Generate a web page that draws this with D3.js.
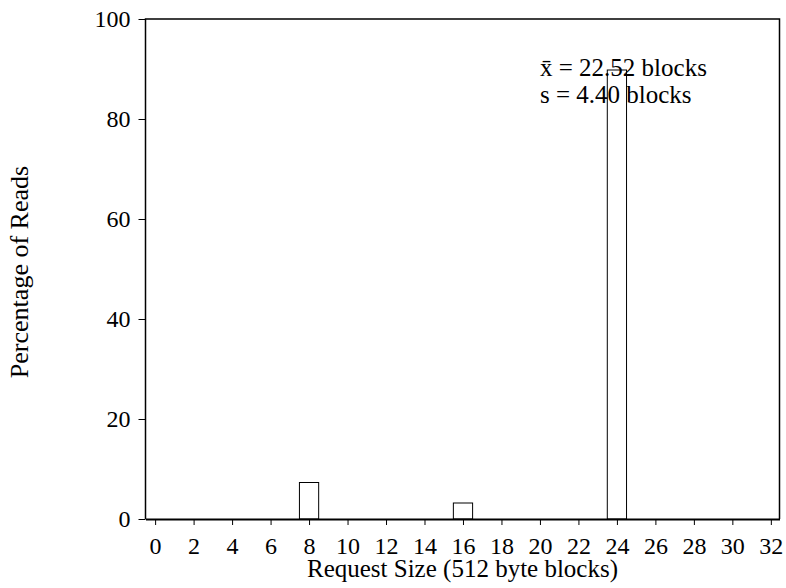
<!DOCTYPE html>
<html>
<head>
<meta charset="utf-8">
<script src="https://cdn.jsdelivr.net/npm/d3@7"></script>
<style>
  html, body { margin: 0; padding: 0; background: #fff; }
  svg, svg text { font-family: "Liberation Serif", "Times New Roman", serif; }
  svg { display: block; }
</style>
</head>
<body>
<div class="chart"></div>
<script>
// Request sizes (512 byte blocks) and percentage of reads
const sizes = [8, 16, 24];
const percents = [7.3, 3.2, 89.8];
const xTicks = [0, 2, 4, 6, 8, 10, 12, 14, 16, 18, 20, 22, 24, 26, 28, 30, 32];
const yTicks = [0, 20, 40, 60, 80, 100];
const statLines = ["x\u0304 = 22.52 blocks", "s = 4.40 blocks"];

const width = 786;
const height = 588;
const margin = { top: 19, right: 6.5, bottom: 69, left: 145.5 };

const svg = d3.select(".chart")
  .append("svg")
  .attr("width", width)
  .attr("height", height);

const x = d3.scaleLinear()
  .domain([-0.5, 32.45])
  .range([margin.left, width - margin.right]);

const y = d3.scaleLinear()
  .domain([0, 100])
  .range([height - margin.bottom, margin.top]);

// plot frame (top, right, left)
svg.append("path")
  .attr("d", `M${x(-0.5)},${y(0)}V${y(100)}H${x(32.45)}V${y(0)}`)
  .attr("fill", "none")
  .attr("stroke", "#000")
  .attr("stroke-width", 1.5);

// bars
svg.append("g")
  .selectAll("rect")
  .data(sizes)
  .join("rect")
  .attr("x", d => x(d - 0.5))
  .attr("width", d => x(d + 0.5) - x(d - 0.5))
  .attr("y", (d, i) => y(percents[i]))
  .attr("height", (d, i) => y(0) - y(percents[i]))
  .attr("fill", "#fff")
  .attr("stroke", "#000")
  .attr("stroke-width", 1);

// x axis
const xAxis = svg.append("g")
  .attr("transform", `translate(0,${y(0)})`)
  .call(d3.axisBottom(x).tickValues(xTicks).tickSize(6).tickSizeOuter(0).tickPadding(12));
xAxis.select(".domain").attr("stroke-width", 2);
xAxis.selectAll("text").style("font-size", "24px");

// y axis
const yAxis = svg.append("g")
  .attr("transform", `translate(${x(-0.5)},0)`)
  .call(d3.axisLeft(y).tickValues(yTicks).tickSize(7).tickSizeOuter(0).tickPadding(8));
yAxis.select(".domain").remove();
yAxis.selectAll("text").style("font-size", "24px");

// axis titles
svg.append("text")
  .attr("x", (margin.left + width - margin.right) / 2)
  .attr("y", 577)
  .attr("text-anchor", "middle")
  .attr("font-size", 25)
  .text("Request Size (512 byte blocks)");

svg.append("text")
  .attr("transform", `translate(28,${(y(0) + y(100)) / 2 + 3}) rotate(-90)`)
  .attr("text-anchor", "middle")
  .attr("font-size", 26)
  .text("Percentage of Reads");

// mean and deviation note
statLines.forEach((line, i) => {
  svg.append("text")
    .attr("x", 540)
    .attr("y", 76 + i * 27)
    .attr("font-size", 25)
    .text(line);
});
</script>
</body>
</html>
